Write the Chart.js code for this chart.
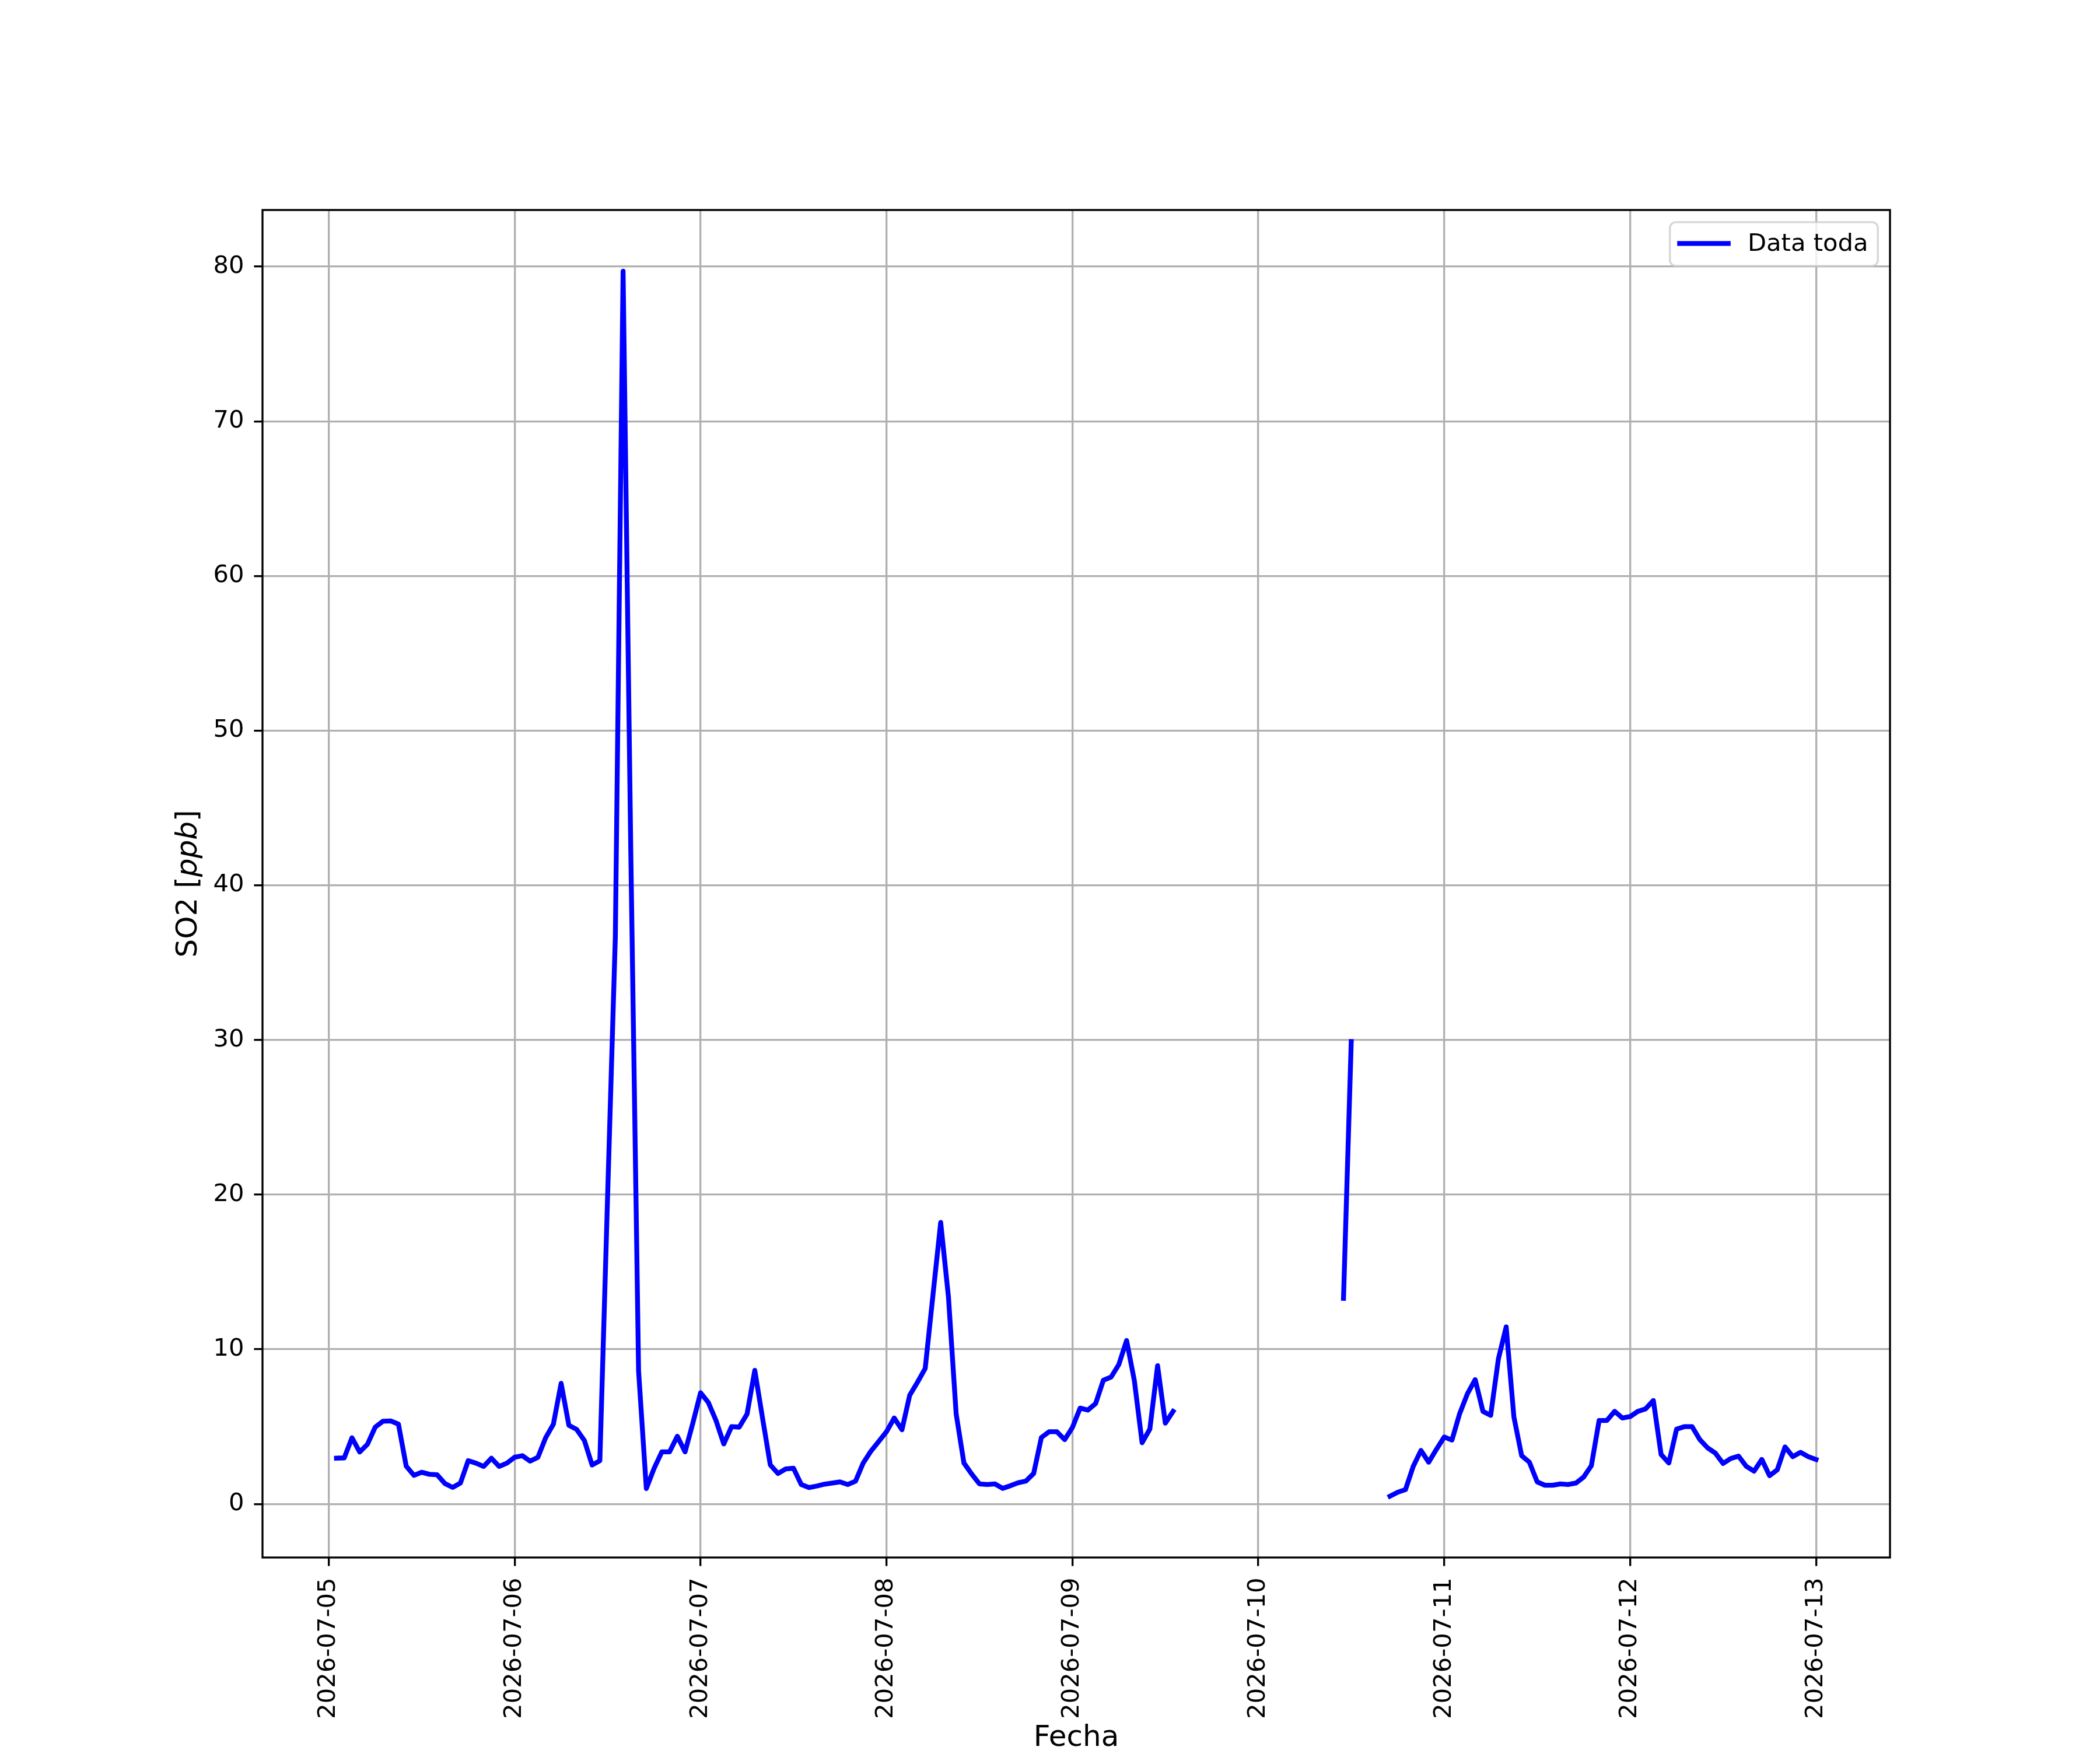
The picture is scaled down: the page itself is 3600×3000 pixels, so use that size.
<!DOCTYPE html>
<html lang="es">
<head>
<meta charset="UTF-8">
<title>SO2 - Data toda</title>
<script src="https://cdn.jsdelivr.net/npm/chart.js@4"></script>
<style>
  html, body { margin: 0; padding: 0; background: #fff; }
  #wrap { width: 3600px; height: 3000px; }
</style>
</head>
<body>
<div id="wrap"><canvas id="so2Chart" width="3600" height="3000"></canvas></div>
<script>
// hourly SO2 readings, first one at 2026-07-05 01:00, null = no data
const firstHour = 1;
const so2Values = [
  2.96, 2.98, 4.28, 3.36, 3.86, 4.97, 5.35, 5.37, 5.16, 2.45, 1.85, 2.05,
  1.92, 1.89, 1.32, 1.07, 1.35, 2.80, 2.64, 2.43, 2.96, 2.43, 2.64, 3.02,
  3.12, 2.77, 3.02, 4.28, 5.16, 7.80, 5.09, 4.82, 4.11, 2.52, 2.80, 19.9,
  36.7, 79.7, 42.0, 8.60, 1.00, 2.30, 3.37, 3.37, 4.38, 3.37, 5.22, 7.19,
  6.57, 5.39, 3.88, 5.00, 4.97, 5.81, 8.64, 5.56, 2.53, 1.97, 2.27, 2.31,
  1.26, 1.06, 1.16, 1.28, 1.35, 1.43, 1.26, 1.47, 2.65, 3.42, 4.04, 4.67,
  5.56, 4.80, 7.03, 7.87, 8.76, 13.5, 18.2, 13.4, 5.81, 2.65, 1.94, 1.30,
  1.26, 1.30, 1.01, 1.18, 1.37, 1.48, 1.97, 4.30, 4.67, 4.67, 4.16, 4.94,
  6.20, 6.07, 6.49, 8.00, 8.21, 9.02, 10.57, 7.98, 3.96, 4.84, 8.94, 5.23,
  5.99, null, null, null, null, null, null, null, null, null, null, null,
  null, null, null, null, null, null, null, null, null, null, 13.3, 29.9,
  null, null, null, null, 0.50, 0.76, 0.93, 2.43, 3.46, 2.70, 3.54, 4.33,
  4.13, 5.85, 7.13, 8.04, 5.99, 5.73, 9.39, 11.45, 5.62, 3.12, 2.70, 1.43,
  1.21, 1.21, 1.30, 1.26, 1.35, 1.74, 2.48, 5.40, 5.40, 5.99, 5.56, 5.65,
  5.99, 6.15, 6.69, 3.20, 2.65, 4.84, 5.00, 5.00, 4.16, 3.63, 3.29, 2.62,
  2.94, 3.09, 2.43, 2.12, 2.88, 1.83, 2.21, 3.69, 3.06, 3.34, 3.06, 2.88
];

// x axis in hours since 2026-07-05 00:00
const xTickHours = [0, 24, 48, 72, 96, 120, 144, 168, 192];
const xTickLabels = [
  "2026-07-05", "2026-07-06", "2026-07-07", "2026-07-08", "2026-07-09",
  "2026-07-10", "2026-07-11", "2026-07-12", "2026-07-13"
];
const yTicks = [0, 10, 20, 30, 40, 50, 60, 70, 80];

const PT = 300 / 72; // px per point
Chart.defaults.font.family = "'DejaVu Sans', sans-serif";
Chart.defaults.color = "#000";

// matplotlib style auto margins (5% each side)
const xs = so2Values.map((v, i) => firstHour + i);
const ys = so2Values.filter(v => v !== null);
const xPad = (xs[xs.length - 1] - xs[0]) * 0.05;
const yPad = (Math.max(...ys) - Math.min(...ys)) * 0.05;

// box around the axes, y label with italic unit, legend in the upper right
const frameAndLegend = {
  id: "frameAndLegend",
  afterDraw(chart) {
    const { ctx, chartArea: a } = chart;
    ctx.save();
    ctx.strokeStyle = "#000";
    ctx.lineWidth = 0.8 * PT;
    ctx.strokeRect(a.left, a.top, a.right - a.left, a.bottom - a.top);

    // y label: SO2 [ppb] with ppb in italics
    const lf = 12 * PT;
    const parts = [
      { t: "SO2 [", f: lf + "px 'DejaVu Sans'" },
      { t: "ppb", f: "italic " + lf + "px 'DejaVu Sans'" },
      { t: "]", f: lf + "px 'DejaVu Sans'" }
    ];
    let total = 0;
    parts.forEach(p => { ctx.font = p.f; p.w = ctx.measureText(p.t).width; total += p.w; });
    ctx.save();
    ctx.translate(324, (a.top + a.bottom) / 2);
    ctx.rotate(-Math.PI / 2);
    ctx.fillStyle = "#000";
    ctx.textBaseline = "middle";
    ctx.textAlign = "left";
    let px = -total / 2;
    parts.forEach(p => { ctx.font = p.f; ctx.fillText(p.t, px, 0); px += p.w; });
    ctx.restore();

    const ds = chart.data.datasets[0];
    const fs = 10 * PT;
    ctx.font = fs + "px 'DejaVu Sans'";
    const textW = ctx.measureText(ds.label).width;
    const w = 0.4 * fs + 2 * fs + 0.8 * fs + textW + 0.4 * fs;
    const h = 1.8 * fs;
    const x = a.right - 0.5 * fs - w;
    const y = a.top + 0.5 * fs;
    ctx.beginPath();
    ctx.roundRect(x, y, w, h, 10);
    ctx.fillStyle = "rgba(255,255,255,0.8)";
    ctx.fill();
    ctx.strokeStyle = "rgba(204,204,204,0.8)";
    ctx.lineWidth = 0.8 * PT;
    ctx.stroke();

    const cy = y + h / 2;
    ctx.beginPath();
    ctx.moveTo(x + 0.4 * fs, cy - 1);
    ctx.lineTo(x + 2.4 * fs, cy - 1);
    ctx.strokeStyle = ds.borderColor;
    ctx.lineWidth = ds.borderWidth;
    ctx.lineCap = "square";
    ctx.stroke();

    ctx.fillStyle = "#000";
    ctx.textBaseline = "middle";
    ctx.textAlign = "left";
    ctx.fillText(ds.label, x + 3.2 * fs, cy + 1);
    ctx.restore();
  }
};

new Chart(document.getElementById("so2Chart"), {
  type: "line",
  data: {
    datasets: [{
      label: "Data toda",
      data: so2Values.map((v, i) => ({ x: xs[i], y: v })),
      borderColor: "#0000ff",
      borderWidth: 2 * PT,
      borderJoinStyle: "round",
      borderCapStyle: "square",
      pointRadius: 0,
      tension: 0,
      spanGaps: false,
      fill: false
    }]
  },
  options: {
    responsive: false,
    animation: false,
    devicePixelRatio: 1,
    layout: { padding: { left: 0, right: 360, top: 360, bottom: 0 } },
    plugins: { legend: { display: false }, tooltip: { enabled: false } },
    scales: {
      x: {
        type: "linear",
        min: xs[0] - xPad,
        max: xs[xs.length - 1] + xPad,
        afterBuildTicks: s => { s.ticks = xTickHours.map(v => ({ value: v })); },
        afterFit: s => { s.height = 330; },
        ticks: {
          autoSkip: false,
          minRotation: 90,
          maxRotation: 90,
          padding: 20,
          font: { size: 10 * PT },
          callback: (v, i) => xTickLabels[i]
        },
        grid: {
          color: "#b0b0b0",
          lineWidth: 0.8 * PT,
          tickColor: "#000",
          tickWidth: 0.8 * PT,
          tickLength: 3.5 * PT
        },
        border: { display: false },
        title: {
          display: true,
          text: "Fecha",
          font: { size: 12 * PT },
          padding: { top: 0, bottom: -10 }
        }
      },
      y: {
        type: "linear",
        min: Math.min(...ys) - yPad,
        max: Math.max(...ys) + yPad,
        afterBuildTicks: s => { s.ticks = yTicks.map(v => ({ value: v })); },
        afterFit: s => { s.width = 450; },
        ticks: {
          padding: 17,
          font: { size: 10 * PT },
          callback: v => String(v)
        },
        grid: {
          color: "#b0b0b0",
          lineWidth: 0.8 * PT,
          tickColor: "#000",
          tickWidth: 0.8 * PT,
          tickLength: 3.5 * PT
        },
        border: { display: false },
        title: { display: false }
      }
    }
  },
  plugins: [frameAndLegend]
});
</script>
</body>
</html>
